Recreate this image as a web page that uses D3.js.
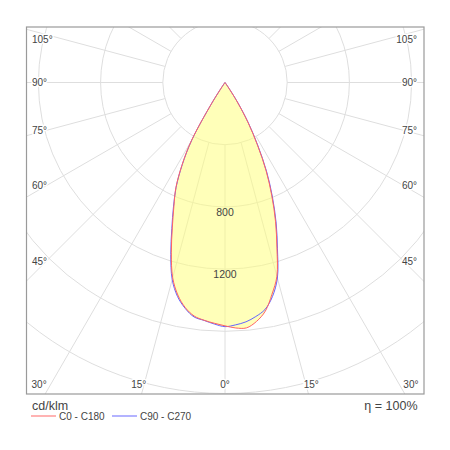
<!DOCTYPE html>
<html lang="en">
<head>
    <meta charset="UTF-8">
    <title>Polar light distribution</title>
    <script src="https://d3js.org/d3.v7.min.js"></script>
    <style>
        body { margin: 0; background: #fff; }
        text { font-family: "Liberation Sans", Arial, sans-serif; }
    </style>
</head>
<body>
    <div id="container"></div>
</body>
<script>
    // gamma angles (deg from nadir) and intensities in cd/klm
    var gamma = [0, 2.5, 5, 7.5, 10, 12.5, 15, 17.5, 20, 22.5, 25, 27.5, 30, 32.5, 35, 37.5, 40, 45, 60, 75, 90];
    var c0   = [1570, 1580, 1584, 1550, 1493, 1395, 1290, 1110, 950, 785, 625, 450, 295, 140, 20, 0, 0, 0, 0, 0, 0];
    var c180 = [1565, 1550, 1535, 1515, 1470, 1400, 1300, 1148, 990, 858, 748, 600, 432, 165, 22, 0, 0, 0, 0, 0, 0];
    var c90  = [1570, 1560, 1545, 1518, 1482, 1410, 1302, 1122, 962, 797, 635, 458, 302, 148, 22, 0, 0, 0, 0, 0, 0];
    var c270 = [1570, 1555, 1536, 1521, 1475, 1410, 1312, 1160, 1000, 866, 744, 594, 424, 158, 20, 0, 0, 0, 0, 0, 0];

    var rings = [400, 800, 1200, 1600, 2000];
    var ringLabels = [800, 1200];
    var sideTicks = [105, 90, 75, 60, 45];
    var bottomTicks = [30, 15, 0];

    var width = 450, height = 450;
    var frame = {left: 26.5, top: 27, right: 424, bottom: 394};
    var cx = 225, cy = 82.5;

    var r = d3.scaleLinear().domain([0, 2000]).range([0, 311]);
    var rad = d => d * Math.PI / 180;

    var svg = d3.select("#container").append("svg")
        .attr("width", width).attr("height", height);

    svg.append("clipPath").attr("id", "clip")
        .append("rect")
        .attr("x", frame.left).attr("y", frame.top)
        .attr("width", frame.right - frame.left).attr("height", frame.bottom - frame.top);

    var g = svg.append("g")
        .attr("clip-path", "url(#clip)")
        .append("g")
        .attr("transform", `translate(${cx},${cy})`);

    // grid: circles and spokes (spokes start at the first ring)
    var grid = g.append("g").attr("fill", "none").attr("stroke", "#dedede").attr("stroke-width", 1);
    grid.selectAll("circle").data(rings).join("circle").attr("r", d => r(d));
    grid.selectAll("line").data(d3.range(0, 360, 15)).join("line")
        .attr("x1", d => r(400) * Math.sin(rad(d)))
        .attr("y1", d => r(400) * Math.cos(rad(d)))
        .attr("x2", d => 700 * Math.sin(rad(d)))
        .attr("y2", d => 700 * Math.cos(rad(d)));

    // a closed curve: left half (gamma 90 -> 0) then right half (0 -> 90)
    function curvePoints(left, right) {
        var pts = [];
        for (var i = gamma.length - 1; i >= 0; i--) pts.push([Math.PI + rad(gamma[i]), r(left[i])]);
        for (var j = 1; j < gamma.length; j++) pts.push([Math.PI - rad(gamma[j]), r(right[j])]);
        return pts;
    }
    var radial = d3.lineRadial()
        .angle(d => d[0]).radius(d => d[1])
        .curve(d3.curveCatmullRom.alpha(0.5));

    var red = curvePoints(c180, c0);
    var blue = curvePoints(c270, c90);

    var fills = g.append("g").attr("opacity", 0.55);
    fills.append("path").attr("d", radial(blue) + "Z").attr("fill", "#ffff80");
    fills.append("path").attr("d", radial(red) + "Z").attr("fill", "#ffff80");

    g.append("path").attr("d", radial(blue) + "Z")
        .attr("fill", "none").attr("stroke", "#6464ff").attr("stroke-width", 1);
    g.append("path").attr("d", radial(red) + "Z")
        .attr("fill", "none").attr("stroke", "#ff6464").attr("stroke-width", 1);

    // ring values
    g.selectAll(".ringlbl").data(ringLabels).join("text")
        .attr("class", "ringlbl")
        .attr("x", 0).attr("y", d => r(d) + 5)
        .attr("dy", "0.35em")
        .attr("text-anchor", "middle")
        .attr("font-size", 10.5).attr("fill", "#444")
        .text(d => d);

    // frame
    svg.append("rect")
        .attr("x", frame.left).attr("y", frame.top)
        .attr("width", frame.right - frame.left).attr("height", frame.bottom - frame.top)
        .attr("fill", "none").attr("stroke", "#9a9a9a").attr("stroke-width", 1.2);

    // angle labels
    var lbl = svg.append("g")
        .attr("font-size", 10).attr("fill", "#444")
        .attr("stroke", "#fff").attr("stroke-width", 3).attr("paint-order", "stroke");

    sideTicks.forEach(function (a) {
        var y = Math.max(cy + 179 * Math.cos(rad(a)) / Math.sin(rad(a)), frame.top + 12);
        lbl.append("text").attr("x", 32).attr("y", y).attr("dy", "0.35em").text(a + "°");
        lbl.append("text").attr("x", 417).attr("y", y).attr("dy", "0.35em")
            .attr("text-anchor", "end").text(a + "°");
    });
    bottomTicks.forEach(function (a) {
        var dx = 322 * Math.tan(rad(a));
        var xs = a === 0 ? [cx] : [cx - dx, cx + dx];
        xs.forEach(function (x) {
            lbl.append("text").attr("x", x).attr("y", 384).attr("dy", "0.35em")
                .attr("text-anchor", "middle").text(a + "°");
        });
    });

    // units, efficiency and legend
    svg.append("text").attr("x", 32).attr("y", 409.5)
        .attr("font-size", 12.5).attr("fill", "#444").text("cd/klm");
    svg.append("text").attr("x", 417.5).attr("y", 409.5).attr("text-anchor", "end")
        .attr("font-size", 12.5).attr("fill", "#444").text("η = 100%");

    var legend = [
        {name: "C0 - C180", color: "#ff8080", x: 31},
        {name: "C90 - C270", color: "#8080ff", x: 112}
    ];
    var lg = svg.append("g").selectAll("g").data(legend).join("g")
        .attr("transform", d => `translate(${d.x},416)`);
    lg.append("path")
        .attr("d", "M0,0H25")
        .attr("fill", "none")
        .attr("stroke", d => d.color).attr("stroke-width", 1.2);
    lg.append("text").attr("x", 28).attr("dy", "0.35em")
        .attr("font-size", 10).attr("fill", "#444").text(d => d.name);
</script>
</html>
